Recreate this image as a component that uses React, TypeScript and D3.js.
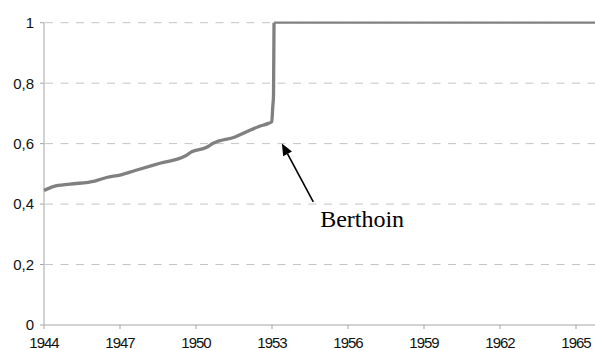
import React from "react";
import * as d3 from "d3";

const years = [1944.0, 1944.37, 1945.03, 1946.0, 1946.47, 1947.0, 1947.6, 1948.58, 1949.57, 1949.83, 1950.4, 1950.68, 1951.54, 1952.0, 1952.46, 1952.86, 1952.99, 1953.03, 1953.06, 1953.08];
const values = [0.445, 0.458, 0.466, 0.476, 0.488, 0.496, 0.511, 0.535, 0.559, 0.573, 0.587, 0.601, 0.622, 0.639, 0.656, 0.667, 0.672, 0.722, 0.76, 1.0];
const flatYears = [1953.08, 1965.75];
const flatValues = [1, 1];

const xTicks = [1944, 1947, 1950, 1953, 1956, 1959, 1962, 1965];
const yTicks = [0, 0.2, 0.4, 0.6, 0.8, 1];

const annotationLabel = "Berthoin";
const arrowTip = [1953.39, 0.6007];
const arrowTail = [1954.63, 0.4076];
const labelPos = [1954.9, 0.3246];

const W = 595;
const H = 350;
const left = 44;
const right = 595;
const top = 22.7;
const bottom = 325;

export default function App() {
  const x = d3.scaleLinear().domain([1944, 1965.75]).range([left, right]);
  const y = d3.scaleLinear().domain([0, 1]).range([bottom, top]);
  const line = d3
    .line<[number, number]>()
    .x((d) => x(d[0]))
    .y((d) => y(d[1]))
    .curve(d3.curveMonotoneX);
  const straight = d3
    .line<[number, number]>()
    .x((d) => x(d[0]))
    .y((d) => y(d[1]));
  const mainPts = years.map((yr, i) => [yr, values[i]] as [number, number]);
  const flatPts = flatYears.map((yr, i) => [yr, flatValues[i]] as [number, number]);
  const fmt = (v: number) => (v === 0 || v === 1 ? String(v) : v.toFixed(1).replace(".", ","));

  const tx = x(arrowTip[0]);
  const ty = y(arrowTip[1]);
  const sx = x(arrowTail[0]);
  const sy = y(arrowTail[1]);
  const ang = Math.atan2(ty - sy, tx - sx);
  const hl = 12;
  const hw = 5;
  const bx = tx - hl * Math.cos(ang);
  const by = ty - hl * Math.sin(ang);
  const p1 = [bx + hw * Math.sin(ang), by - hw * Math.cos(ang)];
  const p2 = [bx - hw * Math.sin(ang), by + hw * Math.cos(ang)];

  return (
    <svg
      width={W}
      height={H}
      style={{ position: "absolute", left: 0, top: 0, background: "#fff" }}
    >
      <rect x={0} y={0} width={W} height={H} fill="#fff" />
      {yTicks.filter((t) => t > 0).map((t) => (
        <line
          key={"g" + t}
          x1={left + 1}
          x2={right}
          y1={y(t)}
          y2={y(t)}
          stroke="#c4c4c4"
          strokeWidth={1}
          strokeDasharray="8,7.5"
        />
      ))}
      <line x1={left} x2={left} y1={top} y2={bottom} stroke="#a6a6a6" strokeWidth={1} />
      <line x1={left} x2={right} y1={bottom} y2={bottom} stroke="#a6a6a6" strokeWidth={1} />
      {yTicks.map((t) => (
        <g key={"y" + t}>
          <line x1={left - 4} x2={left} y1={y(t)} y2={y(t)} stroke="#a6a6a6" strokeWidth={1} />
          <text
            x={34}
            y={y(t)}
            dy="0.36em"
            textAnchor="end"
            fontFamily="Liberation Sans, Arial, sans-serif"
            fontSize={15}
            fill="#111"
          >
            {fmt(t)}
          </text>
        </g>
      ))}
      {xTicks.map((t) => (
        <g key={"x" + t}>
          <line x1={x(t)} x2={x(t)} y1={bottom} y2={bottom + 4} stroke="#a6a6a6" strokeWidth={1} />
          <text
            x={x(t)}
            y={347.5}
            textAnchor="middle"
            fontFamily="Liberation Sans, Arial, sans-serif"
            fontSize={15}
            letterSpacing={-1}
            fill="#111"
          >
            {t}
          </text>
        </g>
      ))}
      <path d={straight(flatPts) || ""} fill="none" stroke="#808080" strokeWidth={2.2} />
      <path
        d={line(mainPts) || ""}
        fill="none"
        stroke="#808080"
        strokeWidth={3.3}
        strokeLinejoin="round"
      />
      <line x1={sx} y1={sy} x2={bx} y2={by} stroke="#000" strokeWidth={1.6} />
      <polygon points={`${tx},${ty} ${p1[0]},${p1[1]} ${p2[0]},${p2[1]}`} fill="#000" />
      <text
        x={x(labelPos[0])}
        y={y(labelPos[1])}
        fontFamily="Liberation Serif, Times New Roman, serif"
        fontSize={24}
        fill="#000"
      >
        {annotationLabel}
      </text>
    </svg>
  );
}
